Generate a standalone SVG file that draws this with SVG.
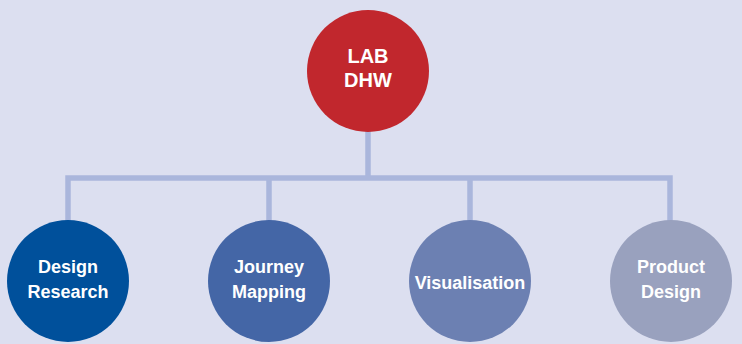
<svg xmlns="http://www.w3.org/2000/svg" width="742" height="344" viewBox="0 0 742 344">
<style>
.t{font-family:"Liberation Sans",Arial,sans-serif;font-weight:bold;fill:#ffffff;text-anchor:middle;font-size:18px}
.top{font-size:20px}
.ln{stroke:#aab6dc;stroke-width:5.5;fill:none;stroke-linejoin:miter}
</style>
<rect width="742" height="344" fill="#dcdff0"/>
<g id="connectors">
<path class="ln" d="M368 130 V178"/>
<path class="ln" d="M68 222 V178 H670 V222"/>
<path class="ln" d="M269 178 V222"/>
<path class="ln" d="M470 178 V222"/>
</g>
<g id="lab-dhw">
<circle cx="368" cy="71" r="61" fill="#c1272d"/>
<text class="t top" x="368" y="63">LAB</text>
<text class="t top" x="368" y="87">DHW</text>
</g>
<g id="design-research">
<circle cx="68" cy="281" r="61" fill="#00509b"/>
<text class="t" x="68" y="273">Design</text>
<text class="t" x="68" y="298">Research</text>
</g>
<g id="journey-mapping">
<circle cx="269" cy="281" r="61" fill="#4466a6"/>
<text class="t" x="269" y="273">Journey</text>
<text class="t" x="269" y="298">Mapping</text>
</g>
<g id="visualisation">
<circle cx="470" cy="281" r="61" fill="#6c80b2"/>
<text class="t" x="470" y="289">Visualisation</text>
</g>
<g id="product-design">
<circle cx="671" cy="281" r="61" fill="#99a1be"/>
<text class="t" x="671" y="273">Product</text>
<text class="t" x="671" y="298">Design</text>
</g>
</svg>
